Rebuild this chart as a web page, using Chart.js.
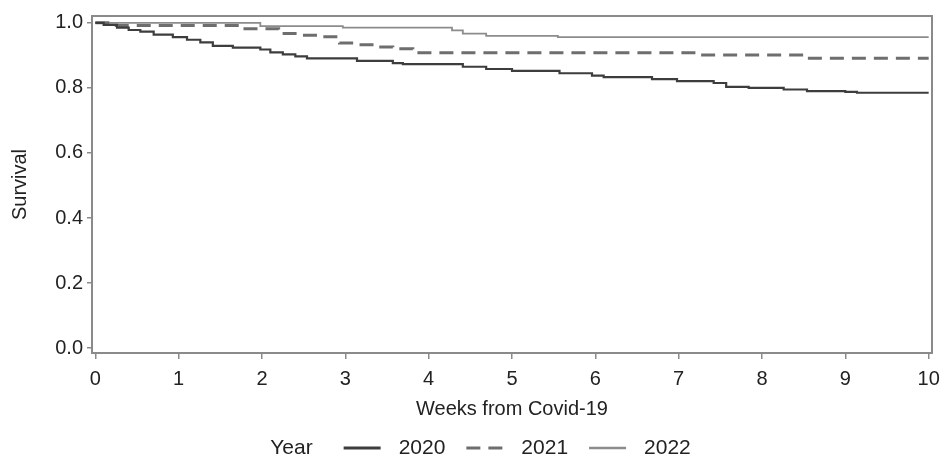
<!DOCTYPE html>
<html>
<head>
<meta charset="utf-8">
<script src="https://cdn.jsdelivr.net/npm/chart.js@4.4.1/dist/chart.umd.min.js"></script>
<style>
    html, body { margin: 0; padding: 0; background: #fff; }
    #wrap { width: 941px; height: 459px; }
</style>
</head>
<body>
<div id="wrap"><canvas id="kmChart"></canvas></div>
<script>
// Kaplan-Meier style survival
const years = ['2020', '2021', '2022'];

const weeks2020 = [0, 0.1, 0.26, 0.4, 0.54, 0.7, 0.93, 1.1, 1.26, 1.41, 1.65, 1.98, 2.1, 2.25, 2.4, 2.54,
    3.14, 3.57, 3.69, 4.41, 4.69, 5.0, 5.57, 5.96, 6.1, 6.68, 6.98, 7.42, 7.57, 7.84, 8.26, 8.54, 9.0, 9.14, 10];
const surv2020 = [1.0, 0.994, 0.985, 0.978, 0.973, 0.964, 0.956, 0.948, 0.94, 0.929, 0.924, 0.918, 0.909, 0.903, 0.897, 0.891,
    0.883, 0.876, 0.873, 0.865, 0.858, 0.852, 0.845, 0.838, 0.833, 0.827, 0.821, 0.815, 0.803, 0.8, 0.795, 0.79, 0.788, 0.785, 0.785];

const weeks2021 = [0, 0.2, 1.74, 2.2, 2.45, 2.69, 2.93, 3.14, 3.32, 3.57, 3.81, 7.25, 8.53, 10];
const surv2021 = [1.0, 0.992, 0.982, 0.967, 0.962, 0.957, 0.938, 0.933, 0.926, 0.92, 0.908, 0.901, 0.891, 0.891];

const weeks2022 = [0, 1.98, 2.97, 4.28, 4.41, 4.69, 5.55, 10];
const surv2022 = [1.0, 0.99, 0.985, 0.977, 0.967, 0.96, 0.956, 0.956];

const xTicks = [0, 1, 2, 3, 4, 5, 6, 7, 8, 9, 10];
const yTicks = [0, 0.2, 0.4, 0.6, 0.8, 1.0];

const toPoints = (weeks, surv) => weeks.map((w, i) => ({ x: w, y: surv[i] }));

Chart.defaults.font.family = "'Liberation Sans', Arial, sans-serif";
Chart.defaults.color = '#222';

const axisGrey = '#8a8a8a';

// box round the plot area (top and right sides)
const framePlugin = {
    id: 'frame',
    afterDraw(chart) {
        const { ctx, chartArea: a } = chart;
        ctx.save();
        ctx.strokeStyle = axisGrey;
        ctx.lineWidth = 2;
        ctx.strokeRect(a.left, a.top, a.right - a.left, a.bottom - a.top);
        ctx.restore();
    }
};

// inline legend: "Year  ——  2020  – –  2021  ——  2022"
const yearLegend = {
    id: 'yearLegend',
    afterDraw(chart) {
        const { ctx } = chart;
        const y = chart.height - 11;
        const sample = 37, afterSample = 18, afterText = 21, afterTitle = 31;
        ctx.save();
        ctx.font = "21px 'Liberation Sans', Arial, sans-serif";
        ctx.textBaseline = 'middle';
        ctx.fillStyle = '#222';
        let total = ctx.measureText('Year').width + afterTitle;
        years.forEach((yr, i) => {
            total += sample + afterSample + ctx.measureText(yr).width;
            if (i < years.length - 1) total += afterText;
        });
        let x = chart.width / 2 + 10 - total / 2;
        ctx.fillText('Year', x, y);
        x += ctx.measureText('Year').width + afterTitle;
        chart.data.datasets.forEach(ds => {
            ctx.beginPath();
            ctx.strokeStyle = ds.borderColor;
            ctx.lineWidth = ds.legendWidth;
            ctx.setLineDash(ds.borderDash || []);
            ctx.moveTo(x, y);
            ctx.lineTo(x + sample, y);
            ctx.stroke();
            x += sample + afterSample;
            ctx.fillText(ds.label, x, y);
            x += ctx.measureText(ds.label).width + afterText;
        });
        ctx.restore();
    }
};

new Chart(document.getElementById('kmChart'), {
    type: 'line',
    data: {
        datasets: [{
            label: years[0],
            data: toPoints(weeks2020, surv2020),
            borderColor: '#3d3d3d',
            borderWidth: 2.2,
            legendWidth: 3,
            stepped: true,
            pointRadius: 0
        }, {
            label: years[1],
            data: toPoints(weeks2021, surv2021),
            borderColor: '#6e6e6e',
            borderWidth: 3,
            borderDash: [14, 8],
            legendWidth: 3,
            stepped: true,
            pointRadius: 0
        }, {
            label: years[2],
            data: toPoints(weeks2022, surv2022),
            borderColor: '#8c8c8c',
            borderWidth: 1.8,
            legendWidth: 2.5,
            stepped: true,
            pointRadius: 0
        }]
    },
    options: {
        responsive: true,
        maintainAspectRatio: false,
        animation: false,
        layout: { padding: { top: 11, right: 9, bottom: 31, left: 0 } },
        plugins: {
            legend: { display: false },
            tooltip: { enabled: false }
        },
        scales: {
            x: {
                type: 'linear',
                min: -0.04,
                max: 10.04,
                afterBuildTicks: s => { s.ticks = xTicks.map(v => ({ value: v })); },
                // the "10" label may hang past the plot box, as in the source
                afterFit: s => { s.height = 75; s.paddingRight = 0; s.paddingLeft = 0; },
                ticks: { font: { size: 20 }, padding: 8, maxRotation: 0, autoSkip: false, callback: v => String(v) },
                grid: { drawOnChartArea: false, drawTicks: true, tickLength: 6, color: axisGrey, lineWidth: 1.5 },
                border: { color: axisGrey, width: 2 },
                title: { display: true, text: 'Weeks from Covid-19', font: { size: 20 }, padding: { top: 4, bottom: 7 } }
            },
            y: {
                type: 'linear',
                min: -0.015,
                max: 1.021,
                afterBuildTicks: s => { s.ticks = yTicks.map(v => ({ value: v })); },
                afterFit: s => { s.width = 92; },
                ticks: { font: { size: 20 }, padding: 4, callback: v => v.toFixed(1) },
                grid: { drawOnChartArea: false, drawTicks: true, tickLength: 5, color: axisGrey, lineWidth: 1.5 },
                border: { color: axisGrey, width: 2 },
                title: { display: true, text: 'Survival', font: { size: 20 }, padding: { top: 8 } }
            }
        }
    },
    plugins: [framePlugin, yearLegend]
});
</script>
</body>
</html>
